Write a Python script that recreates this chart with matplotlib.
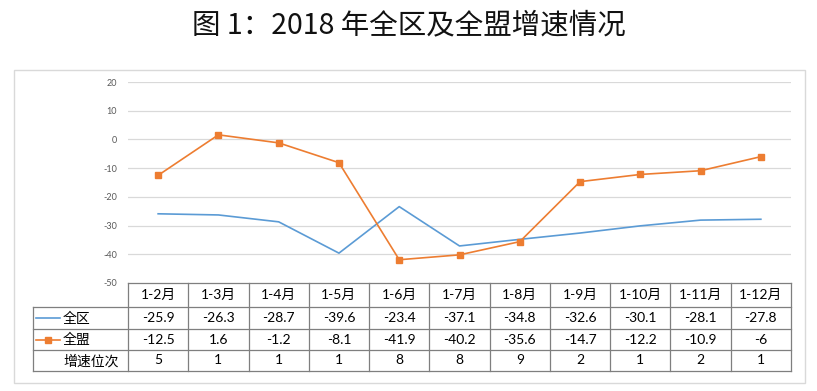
import numpy as np
import matplotlib
matplotlib.use('Agg')
from matplotlib import pyplot as plt
from matplotlib.patches import Rectangle
from matplotlib.lines import Line2D

plt.rcParams['font.family'] = ['Lato', 'Noto Sans CJK SC', 'DejaVu Sans']

months = ['1-2月', '1-3月', '1-4月', '1-5月', '1-6月', '1-7月',
          '1-8月', '1-9月', '1-10月', '1-11月', '1-12月']
quanqu = [-25.9, -26.3, -28.7, -39.6, -23.4, -37.1, -34.8, -32.6, -30.1, -28.1, -27.8]
quanmeng = [-12.5, 1.6, -1.2, -8.1, -41.9, -40.2, -35.6, -14.7, -12.2, -10.9, -6]
quanmeng_labels = ['-12.5', '1.6', '-1.2', '-8.1', '-41.9', '-40.2', '-35.6',
                   '-14.7', '-12.2', '-10.9', '-6']
rank = [5, 1, 1, 1, 8, 8, 9, 2, 1, 2, 1]
yticks = [20, 10, 0, -10, -20, -30, -40, -50]

blue = '#5b9bd5'
orange = '#ed7d31'
grid_c = '#d9d9d9'
border_c = '#7f7f7f'


def main():
    W, H = 817, 391
    fig = plt.figure(figsize=(W / 100, H / 100), dpi=100)

    # outer chart frame
    fig.patches.append(Rectangle((14 / W, 1 - 383 / H), (805 - 14) / W, (383 - 70) / H,
                                 transform=fig.transFigure, fill=False,
                                 edgecolor=grid_c, linewidth=1.0))

    fig.text(0.5, 1 - 25 / H, '图 1：2018 年全区及全盟增速情况',
             ha='center', va='center', fontsize=20.5,
             family=['Noto Sans CJK SC'], color='#111111')

    left, right, top, bottom = 128, 791, 82, 283
    ax = fig.add_axes([left / W, 1 - bottom / H, (right - left) / W, (bottom - top) / H])
    x = np.arange(len(months))
    ax.set_xlim(-0.5, len(months) - 0.5)
    ax.set_ylim(-50, 20)
    ax.set_yticks(yticks)
    ax.set_yticklabels([str(v) for v in yticks], fontsize=6.5, color='#595959')
    ax.set_xticks([])
    for s in ax.spines.values():
        s.set_visible(False)
    ax.tick_params(axis='y', length=0, pad=8)
    for v in yticks[:-1]:
        ax.axhline(v, color=grid_c, linewidth=0.9, zorder=0)

    ax.plot(x, quanqu, color=blue, linewidth=1.2)
    ax.plot(x, quanmeng, color=orange, linewidth=1.2, marker='s', markersize=5)

    # data table below plot
    rows_y = [0, -24 / 201, -46 / 201, -67 / 201, -88 / 201]
    tx0 = (33 - left) / (right - left)
    tr = ax.get_xaxis_transform()
    kw = dict(color=border_c, linewidth=0.9, clip_on=False)
    # horizontal lines
    ax.plot([-0.5, len(months) - 0.5], [rows_y[0]] * 2, transform=tr, **kw)
    for ry in rows_y[1:]:
        ax.plot([tx0, 1], [ry, ry], transform=ax.transAxes, **kw)
    # vertical lines
    for i in range(len(months) + 1):
        ax.plot([i - 0.5] * 2, [rows_y[0], rows_y[-1]], transform=tr, **kw)
    ax.plot([tx0, tx0], [rows_y[1], rows_y[-1]], transform=ax.transAxes, **kw)

    def mid(r):
        return (rows_y[r] + rows_y[r + 1]) / 2

    fs = 10
    for i in range(len(months)):
        ax.text(i, mid(0), months[i], transform=tr, ha='center', va='center', fontsize=fs)
        ax.text(i, mid(1), str(quanqu[i]), transform=tr, ha='center', va='center', fontsize=fs)
        ax.text(i, mid(2), quanmeng_labels[i], transform=tr, ha='center', va='center', fontsize=fs)
        ax.text(i, mid(3), str(rank[i]), transform=tr, ha='center', va='center', fontsize=fs)

    lx0 = (36 - left) / (right - left)
    lx1 = (60 - left) / (right - left)
    ltx = (63 - left) / (right - left)
    ax.add_line(Line2D([lx0, lx1], [mid(1)] * 2, transform=ax.transAxes,
                       color=blue, linewidth=1.2, clip_on=False))
    ax.add_line(Line2D([lx0, lx1], [mid(2)] * 2, transform=ax.transAxes,
                       color=orange, linewidth=1.2, clip_on=False))
    ax.add_line(Line2D([(lx0 + lx1) / 2], [mid(2)], transform=ax.transAxes,
                       color=orange, marker='s', markersize=4, clip_on=False))
    for r, lab in [(1, '全区'), (2, '全盟'), (3, '增速位次')]:
        ax.text(ltx, mid(r), lab, transform=ax.transAxes, ha='left', va='center', fontsize=fs)

    fig.savefig('out.png', dpi=100)


if __name__ == "__main__":
    main()
